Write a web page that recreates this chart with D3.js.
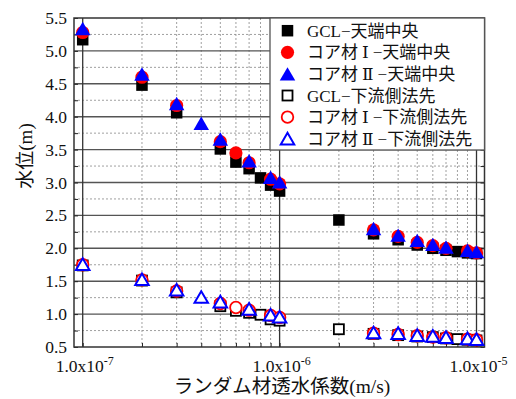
<!DOCTYPE html>
<html><head><meta charset="utf-8">
<script src="https://cdn.jsdelivr.net/npm/d3@7"></script>
<style>
body{margin:0;background:#fff;}
svg{display:block;}
</style></head>
<body><svg id="c" width="516" height="399" font-family="'Liberation Serif', 'DejaVu Serif', 'Noto Sans CJK JP', serif"></svg>
<script>
// ---- data ----
const xGCL = [1e-7,2e-7,3e-7,5e-7,6e-7,7e-7,8e-7,9e-7,1e-6,2e-6,3e-6,4e-6,5e-6,6e-6,7e-6,8e-6,9e-6,1e-5];
const xCore1 = [1e-7,2e-7,3e-7,5e-7,6e-7,7e-7,9e-7,1e-6,3e-6,4e-6,5e-6,6e-6,7e-6,9e-6,1e-5];
const xCore2 = [1e-7,2e-7,3e-7,4e-7,5e-7,7e-7,9e-7,1e-6,3e-6,4e-6,5e-6,6e-6,7e-6,9e-6,1e-5];
const gclCrest   = [5.17,4.48,4.06,3.51,3.31,3.21,3.07,2.96,2.87,2.43,2.22,2.13,2.05,2.00,1.97,1.95,1.93,1.92];
const core1Crest = [5.28,4.60,4.17,3.62,3.45,3.30,3.05,2.98,2.28,2.18,2.09,2.04,2.00,1.96,1.93];
const core2Crest = [5.34,4.65,4.20,3.90,3.66,3.33,3.08,3.01,2.30,2.20,2.12,2.06,2.02,1.97,1.95];
const gclDown    = [1.74,1.51,1.33,1.12,1.05,1.02,0.99,0.92,0.90,0.77,0.70,0.68,0.66,0.65,0.63,0.62,0.61,0.60];
const core1Down  = [1.75,1.52,1.35,1.16,1.10,1.06,0.98,0.95,0.71,0.69,0.67,0.65,0.64,0.62,0.61];
const core2Down  = [1.76,1.53,1.37,1.26,1.19,1.08,0.99,0.96,0.72,0.71,0.68,0.67,0.65,0.63,0.62];
// legend names split as [prefix, numeral, suffix]
const seriesNames = [["GCL","","−天端中央"],["コア材","Ⅰ","−天端中央"],["コア材","Ⅱ","−天端中央"],
                     ["GCL","","−下流側法先"],["コア材","Ⅰ","−下流側法先"],["コア材","Ⅱ","−下流側法先"]];
const yTicks = [0.5,1.0,1.5,2.0,2.5,3.0,3.5,4.0,4.5,5.0,5.5];
const xTickExps = [-7,-6,-5];
const xTitle = "ランダム材透水係数(m/s)";
const yTitle = "水位(m)";

// ---- layout ----
const svg = d3.select("#c");
const L = 74, R = 484.5, T = 18, B = 347;
const x = d3.scaleLog().domain([Math.pow(10,-7.0442), Math.pow(10,-4.9594)]).range([L,R]);
const y = d3.scaleLinear().domain([0.5,5.5]).range([B,T]);

const g = svg.append("g");
const yMinor = d3.range(0.75,5.5,0.5);
g.selectAll(".hm").data(yMinor).enter().append("line")
 .attr("x1",L).attr("x2",R).attr("y1",d=>y(d)).attr("y2",d=>y(d))
 .attr("stroke","#888").attr("stroke-width",0.8).attr("stroke-dasharray","2,2");
const xMinor = [];
[-7,-6].forEach(e=>{for(let k=2;k<=9;k++) xMinor.push(k*Math.pow(10,e));});
g.selectAll(".vm").data(xMinor).enter().append("line")
 .attr("x1",d=>x(d)).attr("x2",d=>x(d)).attr("y1",T).attr("y2",B)
 .attr("stroke","#888").attr("stroke-width",0.8).attr("stroke-dasharray","2,2");
g.selectAll(".hM").data(yTicks.slice(1,-1)).enter().append("line")
 .attr("x1",L).attr("x2",R).attr("y1",d=>y(d)).attr("y2",d=>y(d))
 .attr("stroke","#555").attr("stroke-width",1.4);
g.selectAll(".vM").data(xTickExps).enter().append("line")
 .attr("x1",d=>x(Math.pow(10,d))).attr("x2",d=>x(Math.pow(10,d))).attr("y1",T).attr("y2",B)
 .attr("stroke","#333").attr("stroke-width",1.3);

const yAxisL = d3.axisLeft(y).tickValues(d3.range(0.5,5.51,0.25)).tickSize(-4).tickFormat("");
const yAxisR = d3.axisRight(y).tickValues(d3.range(0.5,5.51,0.25)).tickSize(-4).tickFormat("");
const xAxisB = d3.axisBottom(x).tickValues(xMinor.concat(xTickExps.map(e=>Math.pow(10,e)))).tickSize(-4).tickFormat("");
[[yAxisL,`translate(${L},0)`],[yAxisR,`translate(${R},0)`],[xAxisB,`translate(0,${B})`]].forEach(([ax,tr])=>{
  const a = svg.append("g").attr("transform",tr).call(ax);
  a.select(".domain").remove();
  a.selectAll("line").attr("stroke","#222").attr("stroke-width",1);
});
svg.append("rect").attr("x",L).attr("y",T).attr("width",R-L).attr("height",B-T)
 .attr("fill","none").attr("stroke","#333").attr("stroke-width",1.5);

const FONT = "'Liberation Serif', 'DejaVu Serif', 'Noto Sans CJK JP', serif";
svg.selectAll(".yl").data(yTicks).enter().append("text")
 .attr("font-family",FONT).attr("fill","#111")
 .attr("x",L-7).attr("y",d=>y(d)+6).attr("text-anchor","end").attr("font-size",17.5)
 .text(d=>d.toFixed(1));
xTickExps.forEach(e=>{
  const t = svg.append("text").attr("font-family",FONT).attr("fill","#111")
    .attr("x",x(Math.pow(10,e))+2).attr("y",372).attr("text-anchor","middle").attr("font-size",17.5);
  t.append("tspan").text("1.0x10");
  t.append("tspan").attr("dy",-7).attr("font-size",12).text(String(e));
});
svg.append("text").attr("font-family",FONT).attr("fill","#111").attr("x",282).attr("y",393).attr("text-anchor","middle").attr("font-size",19.5).text(xTitle);
svg.append("text").attr("font-family",FONT).attr("fill","#111").attr("transform","translate(32,156) rotate(-90)").attr("text-anchor","middle").attr("font-size",19).text(yTitle);

function tri(s){const h=s*0.866;return `M0,${-h/2}L${s/2},${h/2}L${-s/2},${h/2}Z`;}
function drawShape(sel,type,fill,stroke,open){
  if(type==="sq"){
    if(open) sel.append("rect").attr("x",-5).attr("y",-5).attr("width",10).attr("height",10).attr("fill","#fff").attr("stroke",stroke).attr("stroke-width",1.8);
    else sel.append("rect").attr("x",-5.75).attr("y",-5.75).attr("width",11.5).attr("height",11.5).attr("fill",fill);
  } else if(type==="ci"){
    sel.append("circle").attr("r",open?5.8:6.6).attr("fill",open?"#fff":fill).attr("stroke",stroke).attr("stroke-width",open?1.8:0);
  } else {
    sel.append("path").attr("d",open?tri(13.5):tri(15.5)).attr("fill",open?"#fff":fill).attr("stroke",stroke).attr("stroke-width",open?2:0);
  }
}
const series = [
  {xs:xGCL,ys:gclCrest,type:"sq",fill:"#000",stroke:"#000",open:false},
  {xs:xCore1,ys:core1Crest,type:"ci",fill:"#f00",stroke:"#f00",open:false},
  {xs:xCore2,ys:core2Crest,type:"tr",fill:"#00f",stroke:"#00f",open:false},
  {xs:xGCL,ys:gclDown,type:"sq",fill:"#000",stroke:"#000",open:true},
  {xs:xCore1,ys:core1Down,type:"ci",fill:"#f00",stroke:"#f00",open:true},
  {xs:xCore2,ys:core2Down,type:"tr",fill:"#00f",stroke:"#00f",open:true}
];
series.forEach(s=>{
  const pts = s.xs.map((xv,i)=>[xv,s.ys[i]]);
  svg.append("g").selectAll("g").data(pts).enter().append("g")
   .attr("transform",d=>`translate(${x(d[0])},${y(d[1])})`)
   .each(function(){drawShape(d3.select(this),s.type,s.fill,s.stroke,s.open);});
});

const lg = svg.append("g");
lg.append("rect").attr("x",270).attr("y",T).attr("width",R-270).attr("height",132)
  .attr("fill","#fff").attr("stroke","#555").attr("stroke-width",1.3);
series.forEach((s,i)=>{
  const cy = 30.7 + i*21.6;
  const m = lg.append("g").attr("transform",`translate(287.5,${cy})`);
  drawShape(m,s.type,s.fill,s.stroke,s.open);
  const t = lg.append("text").attr("font-family",FONT).attr("fill","#111").attr("x",307).attr("y",cy+6).attr("font-size",17);
  const nm = seriesNames[i];
  t.append("tspan").text(nm[0]);
  if(nm[1]) t.append("tspan").attr("dx",4).text(nm[1]);
  t.append("tspan").attr("dx",nm[1]?4:0).text(nm[2]);
});
</script></body></html>
